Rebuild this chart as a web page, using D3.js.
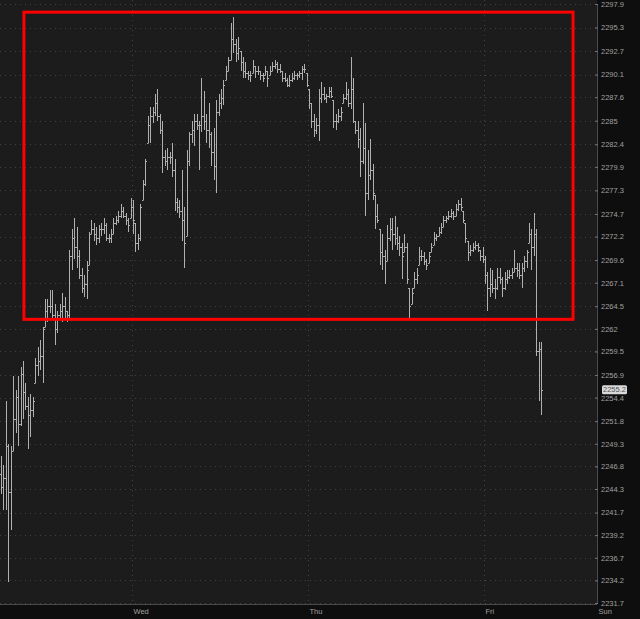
<!DOCTYPE html>
<html><head><meta charset="utf-8">
<script src="https://cdn.jsdelivr.net/npm/d3@7"></script>
<style>html,body{margin:0;padding:0;background:#0e0e0e;}svg{display:block}</style>
</head><body>
<svg id="chart" width="640" height="619"></svg>
<script>
// ---- data (20-minute OHLC bars, prices) ----
const highs = [
2248.0,2247.0,2254.0,2249.25,2249.0,2256.75,2255.25,2256.75,2257.75,2258.5,
2256.0,2254.5,2254.75,2254.5,2258.75,2260.0,2260.75,2262.25,2265.25,2265.25,
2266.25,2266.25,2264.75,2264.0,2264.75,2266.0,2265.5,2264.0,2270.75,2273.0,
2274.25,2273.25,2270.75,2268.75,2268.0,2269.5,2272.75,2274.0,2273.75,2273.25,
2273.5,2273.75,2274.25,2273.75,2272.5,2273.0,2274.25,2274.5,2275.0,2275.75,
2275.5,2274.75,2274.25,2276.5,2276.25,2273.75,2272.5,2275.75,2278.5,2280.75,
2285.5,2286.5,2286.5,2288.0,2288.5,2285.75,2285.0,2281.75,2282.0,2281.5,
2282.5,2280.75,2276.5,2276.25,2279.5,2275.5,2281.75,2283.75,2285.0,2285.75,
2285.75,2285.0,2289.75,2288.25,2285.75,2287.0,2283.75,2284.25,2287.25,2288.0,
2288.5,2289.5,2291.0,2292.0,2295.75,2296.5,2294.0,2294.25,2292.75,2292.0,
2291.5,2290.5,2290.5,2291.75,2291.0,2291.0,2290.5,2290.25,2291.0,2290.5,
2291.0,2291.5,2291.75,2291.5,2291.25,2290.5,2290.25,2289.75,2290.0,2290.25,
2290.5,2290.25,2290.5,2291.0,2291.25,2290.25,2288.5,2287.0,2285.75,2285.25,
2288.5,2289.25,2288.75,2288.0,2288.75,2288.75,2287.25,2285.75,2286.25,2286.5,
2288.0,2289.25,2288.5,2292.0,2289.75,2285.0,2285.0,2284.25,2287.0,2284.75,
2281.75,2283.0,2280.25,2276.75,2275.75,2273.0,2272.5,2270.75,2273.5,2274.25,
2274.25,2274.5,2273.25,2272.25,2271.5,2272.5,2271.5,2266.5,2266.5,2268.25,
2268.75,2271.0,2270.75,2270.5,2269.75,2270.5,2271.5,2272.75,2272.5,2273.25,
2273.75,2274.5,2274.5,2275.0,2275.25,2275.0,2275.75,2276.25,2276.5,2275.0,
2273.75,2271.75,2271.25,2271.5,2271.75,2271.5,2270.75,2271.0,2270.0,2268.25,
2268.75,2268.5,2267.5,2268.75,2268.75,2267.75,2268.25,2268.5,2268.5,2268.75,
2270.75,2269.25,2269.25,2269.25,2270.0,2270.75,2273.75,2273.0,2274.75,2273.0,
2260.5,2260.5];
const lows = [
2243.75,2242.0,2242.0,2234.0,2239.75,2248.5,2250.5,2249.0,2251.25,2252.0,
2253.0,2248.75,2250.0,2252.25,2256.0,2256.75,2257.5,2256.0,2262.25,2262.75,
2263.75,2263.0,2260.25,2261.5,2263.0,2262.75,2263.0,2262.75,2263.25,2268.5,
2269.75,2268.75,2267.5,2266.0,2265.5,2265.25,2269.0,2272.5,2271.75,2271.25,
2271.5,2272.25,2272.5,2271.75,2271.5,2271.5,2272.5,2273.5,2273.75,2274.25,
2274.25,2273.5,2272.75,2274.25,2272.5,2270.5,2270.75,2271.75,2276.25,2277.75,
2282.5,2282.5,2284.75,2285.5,2285.0,2283.5,2279.25,2280.0,2279.5,2280.25,
2278.75,2275.0,2274.75,2274.25,2271.75,2268.75,2272.25,2280.0,2282.5,2282.25,
2284.0,2279.5,2283.75,2284.0,2282.5,2282.0,2280.0,2278.5,2277.0,2285.5,
2286.25,2286.75,2289.5,2290.5,2291.75,2292.5,2291.5,2291.75,2290.5,2289.75,
2289.75,2289.5,2289.25,2290.25,2289.75,2290.0,2289.5,2289.25,2290.0,2288.75,
2290.0,2290.5,2290.75,2290.25,2290.25,2289.25,2289.25,2288.75,2288.75,2289.25,
2289.5,2289.5,2289.75,2289.5,2290.25,2288.75,2286.25,2284.25,2283.25,2283.5,
2282.75,2287.0,2287.25,2287.0,2287.5,2287.5,2284.25,2284.0,2284.75,2285.0,
2287.0,2287.25,2286.5,2286.25,2284.75,2283.5,2282.0,2278.75,2280.25,2274.5,
2276.25,2278.5,2276.25,2273.0,2273.75,2269.0,2268.5,2267.0,2269.5,2271.75,
2270.75,2271.25,2270.75,2270.0,2267.5,2270.5,2267.0,2263.25,2264.75,2266.5,
2267.0,2269.0,2269.5,2269.0,2268.5,2269.25,2270.5,2271.25,2271.75,2272.25,
2272.5,2273.25,2273.75,2274.0,2274.25,2274.0,2274.5,2275.0,2275.0,2273.75,
2271.5,2269.5,2270.0,2270.5,2270.75,2270.5,2269.5,2269.25,2267.0,2264.0,
2265.5,2266.0,2265.25,2266.25,2267.0,2265.5,2266.25,2267.0,2267.5,2267.5,
2268.25,2267.75,2267.5,2266.5,2268.25,2268.75,2271.5,2268.5,2270.0,2259.0,
2254.0,2252.5];
const closes = [
2244.5,2245.5,2249.0,2244.0,2248.5,2252.0,2254.5,2251.5,2257.0,2255.0,
2253.5,2252.5,2253.0,2254.0,2258.0,2258.5,2259.0,2262.0,2264.0,2264.5,
2264.5,2263.5,2262.0,2263.5,2264.0,2264.5,2264.0,2263.5,2270.0,2272.0,
2271.0,2270.0,2268.0,2266.5,2267.0,2268.5,2272.5,2273.0,2272.5,2272.0,
2273.0,2273.0,2273.5,2272.0,2272.0,2272.5,2273.75,2274.0,2274.5,2275.0,
2274.5,2274.0,2273.5,2275.5,2274.0,2271.5,2272.0,2275.5,2278.0,2280.5,
2284.5,2285.5,2286.0,2287.0,2285.5,2284.0,2281.0,2280.5,2281.0,2281.0,
2279.5,2276.0,2275.5,2275.0,2274.0,2271.5,2280.5,2283.5,2284.0,2285.0,
2284.5,2284.5,2285.5,2285.0,2284.0,2283.5,2281.5,2280.0,2286.0,2287.0,
2287.5,2289.0,2290.5,2291.75,2294.0,2293.5,2292.5,2293.0,2291.5,2290.5,
2290.25,2290.0,2290.0,2291.0,2290.5,2290.5,2290.0,2289.75,2290.5,2289.75,
2290.5,2291.0,2291.25,2290.75,2290.5,2289.75,2289.5,2289.0,2289.5,2289.75,
2290.0,2290.0,2290.25,2290.75,2290.75,2289.0,2287.0,2285.0,2284.0,2284.5,
2287.5,2288.0,2287.5,2287.75,2288.25,2287.75,2285.0,2285.0,2285.5,2286.0,
2287.5,2288.0,2287.0,2288.5,2285.0,2284.0,2283.0,2280.5,2282.0,2277.0,
2279.0,2279.5,2277.0,2274.5,2274.0,2270.5,2270.0,2269.5,2272.0,2273.0,
2272.5,2272.0,2271.5,2271.0,2270.0,2271.0,2267.5,2264.5,2266.0,2267.5,
2268.0,2270.0,2270.0,2269.5,2269.0,2270.0,2271.0,2272.0,2272.25,2272.75,
2273.25,2274.0,2274.25,2274.5,2274.75,2274.5,2275.25,2275.75,2275.5,2274.0,
2272.0,2270.5,2270.75,2271.0,2271.25,2271.0,2270.0,2269.75,2268.0,2266.5,
2267.0,2266.5,2266.5,2267.75,2267.5,2266.5,2267.5,2267.75,2268.0,2268.25,
2268.75,2268.5,2268.0,2268.75,2269.5,2270.5,2272.5,2271.0,2272.5,2259.5,
2259.75,2255.25];
const firstOpen = 2246.0;
const startDay = 0.2557;          // days, Wed = 1, Thu = 2, Fri = 3
const barDays = 1 / 72;           // 20-minute bars

const yTicks = [2297.9,2295.3,2292.7,2290.1,2287.6,2285,2282.4,2279.9,2277.3,2274.7,
  2272.2,2269.6,2267.1,2264.5,2262,2259.5,2256.9,2254.4,2251.8,2249.3,2246.8,
  2244.3,2241.7,2239.2,2236.7,2234.2,2231.7];
const dayTicks = [1, 2, 3, 3.642];
const dayLabels = ["Wed", "Thu", "Fri", "Sun"];
const lastPrice = 2255.2;
const highlight = {d0: 0.386, d1: 3.506, pTop: 2297.0, pBottom: 2263.05};

// ---- layout ----
const W = 640, H = 619, plotW = 597, plotTop = 4, plotBottom = 603, frameBottom = 604;
const svg = d3.select("#chart");
const x = d3.scaleLinear().domain([0.25, 3.642]).range([0, plotW]);
const y = d3.scaleLinear().domain([2231.7, 2297.9]).range([plotBottom, plotTop]);

svg.append("rect").attr("width", W).attr("height", H).attr("fill", "#0e0e0e");
svg.append("rect").attr("width", plotW).attr("height", frameBottom).attr("fill", "#1c1c1c");

// grid
const grid = svg.append("g").attr("stroke", "#404040").attr("stroke-dasharray", "1,4").attr("stroke-width", 1);
grid.selectAll("line.h").data(yTicks).join("line").attr("class", "h")
  .attr("x1", 0).attr("x2", plotW)
  .attr("y1", d => Math.round(y(d)) + 0.5).attr("y2", d => Math.round(y(d)) + 0.5);
grid.selectAll("line.v").data(dayTicks.slice(0, 3)).join("line").attr("class", "v")
  .attr("x1", d => Math.round(x(d)) + 0.5).attr("x2", d => Math.round(x(d)) + 0.5)
  .attr("y1", 0).attr("y2", frameBottom);

// bars
const bars = highs.map((h, i) => {
  const l = lows[i];
  let o = i === 0 ? firstOpen : closes[i - 1];
  o = Math.max(l, Math.min(h, o));
  return {t: startDay + i * barDays, h, l, o, c: closes[i]};
});
const bg = svg.append("g").attr("stroke", "#b0b0b0").attr("stroke-width", 1).attr("fill", "none");
bg.selectAll("path").data(bars).join("path")
  .attr("d", d => {
    const cx = Math.round(x(d.t)) + 0.5;
    const yh = Math.round(y(d.h)), yl = Math.max(Math.round(y(d.l)), yh + 1);
    const yo = Math.round(y(d.o)) + 0.5, yc = Math.round(y(d.c)) + 0.5;
    return `M${cx},${yh}V${yl}M${cx - 1.5},${yo}H${cx}M${cx},${yc}H${cx + 1.5}`;
  });

// highlight box
svg.append("rect")
  .attr("x", x(highlight.d0)).attr("y", y(highlight.pTop))
  .attr("width", x(highlight.d1) - x(highlight.d0))
  .attr("height", y(highlight.pBottom) - y(highlight.pTop))
  .attr("fill", "none").attr("stroke", "#ff0000").attr("stroke-width", 3);

// right axis
const yAxis = d3.axisRight(y).tickValues(yTicks).tickSize(0).tickPadding(4).tickFormat(d => String(d));
const ya = svg.append("g").attr("transform", `translate(${plotW},0)`).call(yAxis);
ya.select(".domain").attr("stroke", "#4a4a4a");
ya.selectAll("text").attr("fill", "#a0a0a0").style("font-family", "Liberation Sans, Arial, sans-serif").style("font-size", "7.5px");
ya.selectAll(".tick").append("line").attr("x1", -2).attr("x2", 1).attr("stroke", "#777");

// bottom axis
const xAxis = d3.axisBottom(x).tickValues(dayTicks).tickSize(0).tickPadding(0).tickFormat((d, i) => dayLabels[i]);
const xa = svg.append("g").attr("transform", `translate(0,${frameBottom})`).call(xAxis);
xa.select(".domain").attr("stroke", "#4a4a4a").attr("d", `M0,0.5H${plotW}`);
xa.selectAll("text").attr("fill", "#a0a0a0").attr("text-anchor", "start").attr("dx", "1").attr("dy", "10")
  .style("font-family", "Liberation Sans, Arial, sans-serif").style("font-size", "7.5px");

// last price tag
const tagY = y(lastPrice);
const tag = svg.append("g").attr("transform", `translate(602,${tagY - 5})`);
tag.append("rect").attr("width", 25).attr("height", 9).attr("rx", 1.5).attr("fill", "#d9d9d9");
tag.append("text").attr("x", 12.5).attr("y", 7).attr("text-anchor", "middle").attr("fill", "#555")
  .style("font-family", "Liberation Sans, Arial, sans-serif").style("font-size", "7.5px").text(String(lastPrice));
</script>
</body></html>
